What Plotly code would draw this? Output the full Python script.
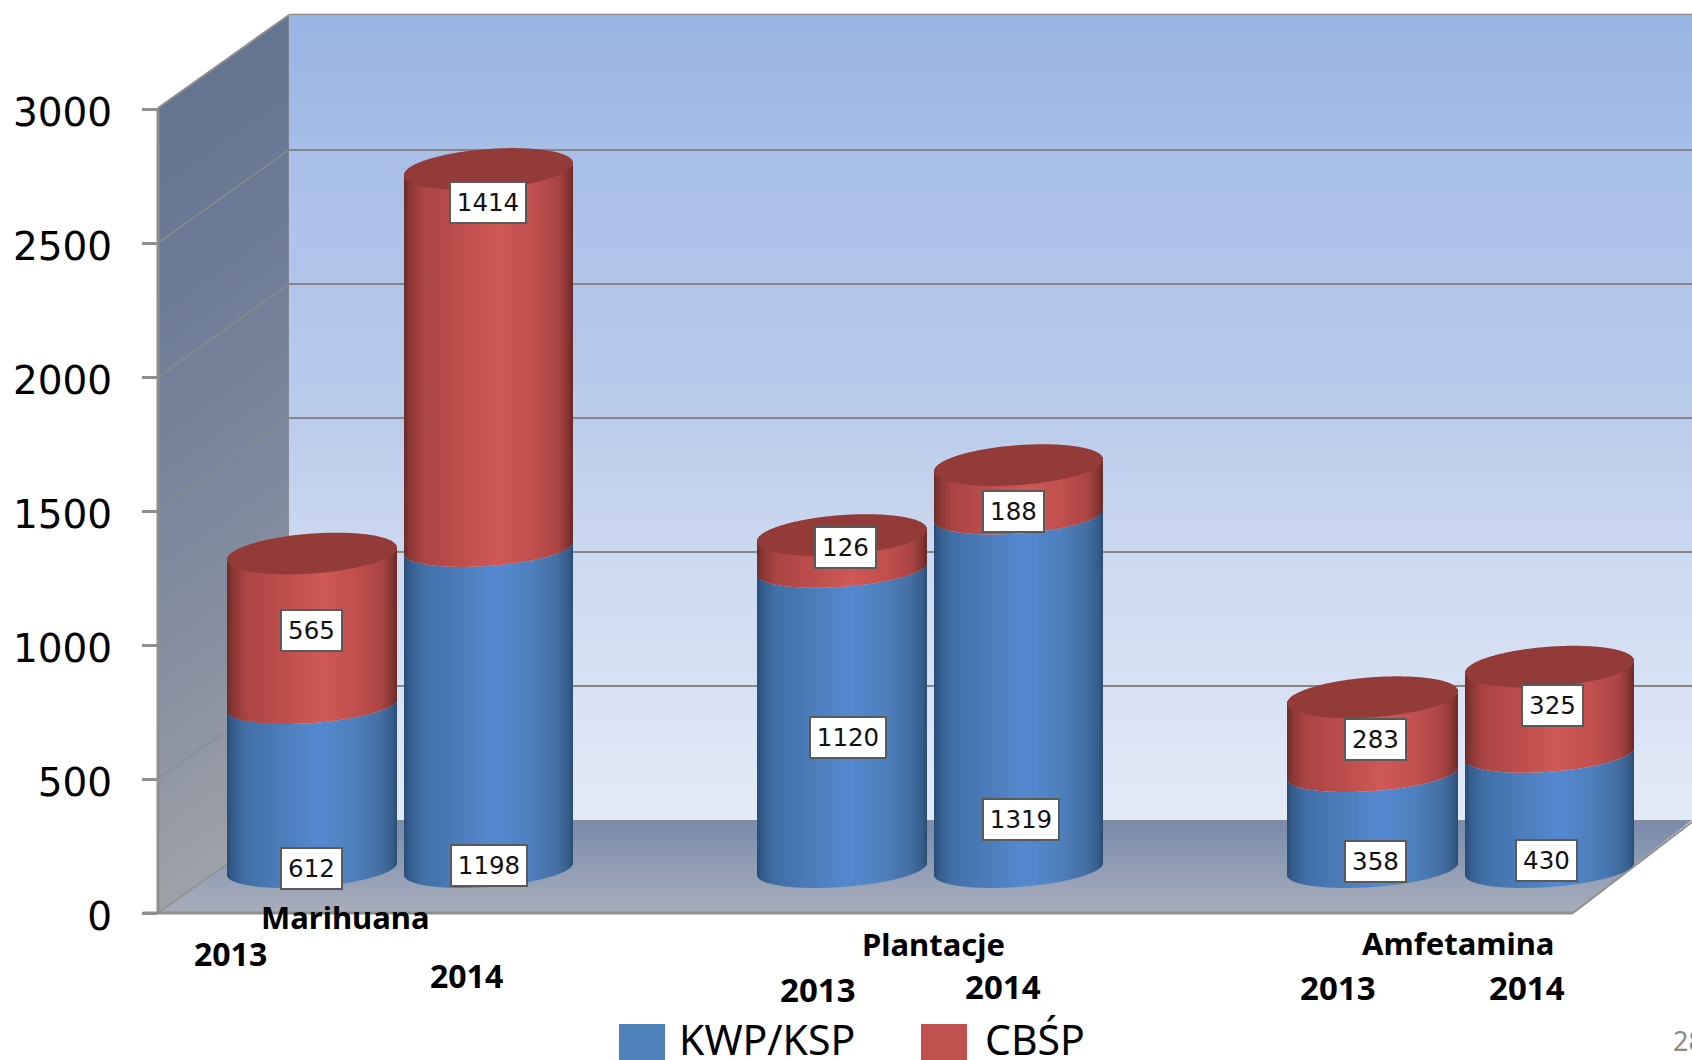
import numpy as np
import plotly.graph_objects as go

# ---------- data ----------
groups = ["Marihuana", "Plantacje", "Amfetamina"]
years = ["2013", "2014", "2013", "2014", "2013", "2014"]
kwp_ksp = [612, 1198, 1120, 1319, 358, 430]
cbsp = [565, 1414, 126, 188, 283, 325]
y_ticks = [0, 500, 1000, 1500, 2000, 2500, 3000]

# ---------- layout geometry (page pixels) ----------
W, H = 1692, 1060
LEFT, TOP, BOTTOM, PLOT_BOTTOM = 158, 15, 913, 930
BACK_X, FLOOR_BACK_Y, FLOOR_FRONT_R = 289, 820, 1573
PX_PER_UNIT = 0.268
CYL_BASE_PX = 869
cyl_edges = [(227, 397), (404, 573), (757, 927), (934, 1103), (1287, 1458), (1465, 1634)]
ELL_H = 18 / PX_PER_UNIT
CAP_H = 20 / PX_PER_UNIT
ELL_TILT = 6 / PX_PER_UNIT
LABEL_SHIFT = 3.5 / PX_PER_UNIT

cyl_off = (BOTTOM - CYL_BASE_PX) / PX_PER_UNIT
back_off = (BOTTOM - FLOOR_BACK_Y) / PX_PER_UNIT


def fx(px):
    return (px - LEFT) / (W - LEFT)


def fy(py):
    return (PLOT_BOTTOM - py) / (PLOT_BOTTOM - TOP)


def val(py):
    return (BOTTOM - py) / PX_PER_UNIT


y_lo, y_hi = val(PLOT_BOTTOM), val(TOP)


def hexrgb(h):
    return np.array([int(h[i:i + 2], 16) for i in (1, 3, 5)], float)


def ramp(stops, t):
    ts = [s[0] for s in stops]
    cs = np.array([hexrgb(s[1]) for s in stops])
    return "rgb(%d,%d,%d)" % tuple(np.interp(t, ts, cs[:, i]) for i in range(3))


blue_stops = [(-1, "#2b4c75"), (-0.93, "#365e8f"), (-0.78, "#4170a8"), (-0.3, "#4e7fbd"),
              (0.1, "#5589d0"), (0.5, "#4e80bd"), (0.82, "#446ea3"), (0.95, "#365c8a"), (1, "#2b4c72")]
red_stops = [(-1, "#6c2b29"), (-0.93, "#8a3735"), (-0.78, "#ab4543"), (-0.3, "#bf4f4d"),
             (0.1, "#cf5957"), (0.5, "#c2504e"), (0.82, "#aa4543"), (0.95, "#833432"), (1, "#672927")]
CAP = "#923b38"

xs, lower, cap_low, cap_h, bc, rc, kw, cb = [], [], [], [], [], [], [], []
for (a, b), k, c in zip(cyl_edges, kwp_ksp, cbsp):
    cx, rx = (a + b) / 2, (b - a) / 2
    for p in range(a, b):
        x = p + 0.5
        u = (x - cx) / rx
        s = np.sqrt(max(0, 1 - u * u))
        xs.append(x)
        lower.append(ELL_TILT * u - ELL_H * s)
        cap_low.append(ELL_TILT * u - CAP_H * s)
        cap_h.append(2 * CAP_H * s)
        bc.append(ramp(blue_stops, u))
        rc.append(ramp(red_stops, u))
        kw.append(k)
        cb.append(c)
xs, lower, cap_low, cap_h, kw, cb = map(np.array, (xs, lower, cap_low, cap_h, kw, cb))

fig = go.Figure()
common = dict(x=xs, width=1, yaxis="y2", marker_line_width=0, hoverinfo="skip", showlegend=False)
fig.add_bar(name="KWP/KSP", base=lower, y=kw, marker_color=bc, **common)
fig.add_bar(name="CBŚP", base=lower + kw, y=cb, marker_color=rc, **common)
fig.add_bar(name="top", base=cap_low + kw + cb, y=cap_h, marker_color=CAP, **common)
# anchors the axis that carries the tick labels
fig.add_scatter(x=[LEFT], y=[0], yaxis="y3", mode="none", hoverinfo="skip", showlegend=False)

shapes = []
# back wall gradient
back_stops = [(15, "#99b5e3"), (150, "#a8bfe7"), (285, "#b2c6ea"), (418, "#bccdec"),
              (553, "#ccd9f0"), (687, "#d8e2f4"), (820, "#e4ebf8")]
n = 100
ys = np.linspace(TOP, FLOOR_BACK_Y, n + 1)
for i in range(n):
    shapes.append(dict(type="rect", xref="x", yref="y", layer="below", line_width=0,
                       x0=BACK_X, x1=W, y0=val(ys[i]), y1=val(min(ys[i + 1] + 1, FLOOR_BACK_Y)),
                       fillcolor=ramp(back_stops, ys[i])))
# side wall gradient
side_stops = [(0, "#63758f"), (0.25, "#6e7d97"), (0.5, "#7b879c"), (0.75, "#8b93a3"), (1, "#a0a2a8")]
n = 70
ts = np.linspace(0, 1, n + 1)
for i in range(n):
    t0, t1 = ts[i], min(1, ts[i + 1] + 0.004)
    ya0, ya1 = 108 + t0 * (913 - 108), 108 + t1 * (913 - 108)
    yb0, yb1 = 15 + t0 * (820 - 15), 15 + t1 * (820 - 15)
    shapes.append(dict(type="path", xref="paper", yref="paper", layer="below", line_width=0,
                       path=f"M{fx(LEFT)},{fy(ya0)}L{fx(BACK_X)},{fy(yb0)}L{fx(BACK_X)},{fy(yb1)}L{fx(LEFT)},{fy(ya1)}Z",
                       fillcolor=ramp(side_stops, t0)))
# floor gradient
floor_stops = [(0, "#7a8bab"), (0.4, "#8d9ab3"), (1, "#a9aebb")]
n = 40
ts = np.linspace(0, 1, n + 1)
for i in range(n):
    t0, t1 = ts[i], min(1, ts[i + 1] + 0.01)
    y0, y1 = FLOOR_BACK_Y + t0 * 93, FLOOR_BACK_Y + t1 * 93
    xl0, xl1 = BACK_X + t0 * (LEFT - BACK_X), BACK_X + t1 * (LEFT - BACK_X)
    xr0, xr1 = 1692 + t0 * (FLOOR_FRONT_R - 1692), 1692 + t1 * (FLOOR_FRONT_R - 1692)
    shapes.append(dict(type="path", xref="paper", yref="paper", layer="below", line_width=0,
                       path=f"M{fx(xl0)},{fy(y0)}L{fx(xr0)},{fy(y0)}L{fx(xr1)},{fy(y1)}L{fx(xl1)},{fy(y1)}Z",
                       fillcolor=ramp(floor_stops, t0)))

GRID = "#868686"
# gridlines on the back wall and the side wall, from the axis ticks
for v in y_ticks[1:-1]:
    shapes.append(dict(type="line", xref="x", yref="y", layer="below", line=dict(color=GRID, width=2),
                       x0=BACK_X, x1=W, y0=v + back_off, y1=v + back_off))
    shapes.append(dict(type="line", xref="x", yref="y", layer="below", line=dict(color="#8a8c90", width=1.5),
                       x0=LEFT, x1=BACK_X, y0=v, y1=v + back_off))
# frame
frame = [((LEFT, 108), (BACK_X, 15), 2), ((BACK_X, 15), (W, 15), 2.5), ((LEFT, 108), (LEFT, 913), 3),
         ((BACK_X, 15), (BACK_X, 820), 1), ((LEFT, 913), (BACK_X, 820), 1.5), ((143, 913), (FLOOR_FRONT_R, 913), 3),
         ((FLOOR_FRONT_R, 913), (W, 822), 2), ((BACK_X, 820), (W, 820), 1.5)]
for (xa, ya), (xb, yb), w in frame:
    shapes.append(dict(type="line", xref="paper", yref="paper", layer="below",
                       line=dict(color="#8e8e8e", width=w), x0=fx(xa), x1=fx(xb), y0=fy(ya), y1=fy(yb)))

# legend
legend_items = [("KWP/KSP", "#4f81bd", 619, 677), ("CBŚP", "#c0504d", 921, 983)]
ann = []
for name, col, sx, tx in legend_items:
    shapes.append(dict(type="rect", xref="paper", yref="paper", line_width=0, fillcolor=col,
                       x0=fx(sx), x1=fx(sx + 46), y0=fy(1024), y1=fy(1060)))
    ann.append(dict(text=name, x=fx(tx), y=fy(1039), xanchor="left", yanchor="middle",
                    font=dict(family="Noto Sans", size=41, color="#000000")))

# value labels
label_pos = {612: (311.5, 868), 1198: (488.7, 865), 565: (311, 630), 1414: (488, 203),
             1120: (848, 737.5), 1319: (1021, 819), 126: (845, 548), 188: (1013.5, 511),
             358: (1375.5, 861), 430: (1546, 860), 283: (1375.5, 739), 325: (1552, 705)}
for v in kwp_ksp + cbsp:
    px, py = label_pos[v]
    ann.append(dict(text=str(v), x=fx(px), y=fy(py), xanchor="center", yanchor="middle",
                    width=74 if v >= 1000 else 59, height=39, align="center", valign="middle",
                    bgcolor="#ffffff", bordercolor="#5a5a5a", borderwidth=2, borderpad=0,
                    font=dict(family="DejaVu Sans", size=24.5, color="#111111")))

# group and year labels
cat_font = dict(family="Noto Sans", size=31, color="#000000", weight="bold")
for text, px, py in zip(groups, [345, 933, 1458], [917, 944, 943]):
    ann.append(dict(text=text, x=fx(px), y=fy(py), xanchor="center", yanchor="middle", font=cat_font))
year_pos = [(230, 953), (466, 975), (818, 989), (1003, 986), (1338, 987), (1527, 987)]
year_sizes = [32, 32, 33, 33, 33, 33]
for text, (px, py), sz in zip(years, year_pos, year_sizes):
    ann.append(dict(text=text, x=fx(px), y=fy(py), xanchor="center", yanchor="middle",
                    font=dict(family="Noto Sans", size=sz, color="#000000", weight="bold")))
ann.append(dict(text="28", x=fx(1671), y=fy(1040), xanchor="left", yanchor="middle",
                font=dict(family="Noto Sans", size=27, color="#8b8b8b")))
for a in ann:
    a.update(xref="paper", yref="paper", showarrow=False)

fig.update_layout(
    width=W, height=H, margin=dict(l=LEFT, r=0, t=TOP, b=H - PLOT_BOTTOM, autoexpand=False),
    paper_bgcolor="#ffffff", plot_bgcolor="rgba(0,0,0,0)", barmode="overlay", showlegend=False,
    shapes=shapes, annotations=ann,
    xaxis=dict(range=[LEFT, W], visible=False, fixedrange=True),
    yaxis=dict(range=[y_lo, y_hi], tickvals=y_ticks, showticklabels=False, showgrid=False,
               zeroline=False, showline=False, ticks="outside", ticklen=15, tickwidth=3, tickcolor="#8e8e8e",
               fixedrange=True),
    yaxis2=dict(range=[y_lo - cyl_off, y_hi - cyl_off], overlaying="y", visible=False, fixedrange=True),
    yaxis3=dict(range=[y_lo + LABEL_SHIFT, y_hi + LABEL_SHIFT], overlaying="y", tickvals=y_ticks,
                ticktext=[str(v) for v in y_ticks], showgrid=False, zeroline=False, showline=False,
                ticks="outside", ticklen=15, tickwidth=0, tickcolor="rgba(0,0,0,0)", ticklabelstandoff=22,
                tickfont=dict(family="DejaVu Sans", size=39, color="#000000"), fixedrange=True),
)

fig.write_html("out.html", config=dict(displayModeBar=False),
               post_script="document.body.style.margin='0';document.body.style.overflow='hidden';")
